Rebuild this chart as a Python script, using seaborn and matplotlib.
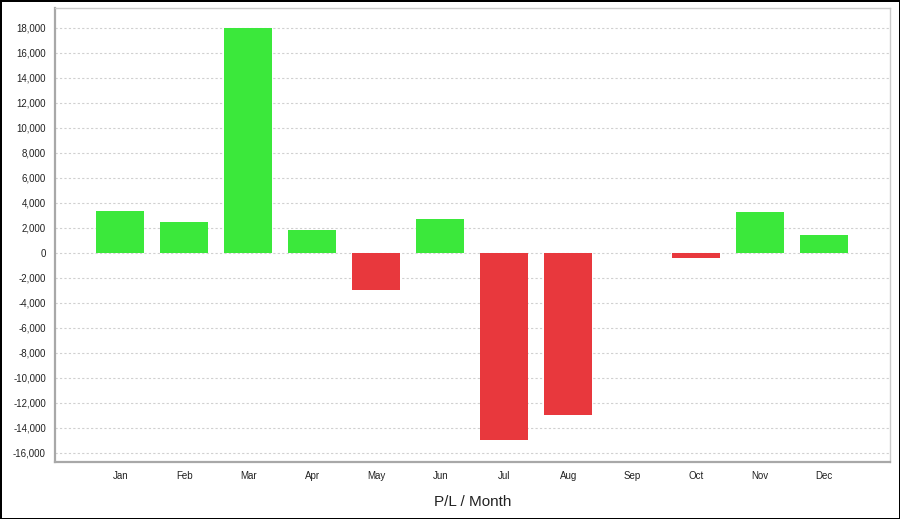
import numpy as np
import pandas as pd
import matplotlib.pyplot as plt
import seaborn as sns
from matplotlib.ticker import FuncFormatter, MultipleLocator

months = ['Jan', 'Feb', 'Mar', 'Apr', 'May', 'Jun', 'Jul', 'Aug', 'Sep', 'Oct', 'Nov', 'Dec']
pl = [3350, 2500, 17950, 1850, -3000, 2700, -15000, -13000, 0, -400, 3250, 1450]

green = '#3be83b'
red = '#e8383d'

sns.set_style('white')
plt.rcParams['font.family'] = ['Liberation Sans', 'DejaVu Sans']

df = pd.DataFrame({'month': months, 'pl': pl})
colors = [green if v >= 0 else red for v in df['pl']]

fig = plt.figure(figsize=(9, 5.19), dpi=100, edgecolor='black', linewidth=2)
ax = fig.add_axes([0.061, 0.11, 0.928, 0.875])

sns.barplot(data=df, x='month', y='pl', hue='month', palette=colors, legend=False,
            width=0.75, saturation=1, ax=ax, edgecolor=None, linewidth=0, zorder=3)

ax.set_xlim(-1.02, 12.03)
ax.set_ylim(-16720, 19600)
ax.yaxis.set_major_locator(MultipleLocator(2000))
ax.yaxis.set_major_formatter(FuncFormatter(lambda v, p: f'{int(v):,}'))
ax.grid(axis='y', color='#d0d0d0', linestyle=(0, (2, 2)), linewidth=0.8, zorder=0)

ax.tick_params(axis='both', labelsize=7, colors='#222222', length=3, width=0.8)
ax.tick_params(axis='both', color='#999999')
ax.set_xlabel('P/L / Month', fontsize=11, color='#222222', labelpad=10)
ax.set_ylabel('')

for side in ['left', 'bottom']:
    ax.spines[side].set_color('#a8a8a8')
    ax.spines[side].set_linewidth(1.6)
for side in ['top', 'right']:
    ax.spines[side].set_color('#cccccc')
    ax.spines[side].set_linewidth(1.0)

fig.savefig('out.png', dpi=100)
